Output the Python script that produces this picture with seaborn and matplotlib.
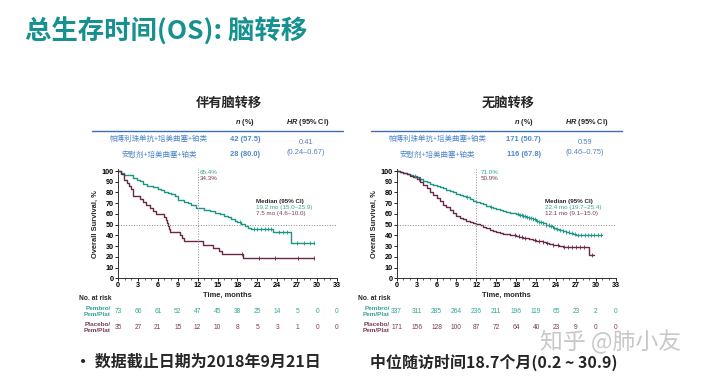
import numpy as np
import pandas as pd
import matplotlib
matplotlib.use("Agg")
import matplotlib.pyplot as plt
import matplotlib.transforms as mtransforms
from matplotlib.ticker import MultipleLocator
import seaborn as sns

# ---- data ----
months = [0, 3, 6, 9, 12, 15, 18, 21, 24, 27, 30, 33]

# with brain metastases
bm_pembro_t = [0, 0.4, 0.9, 2.3, 2.8, 3.3, 3.8, 4.4, 5.3, 6.0, 6.5, 7.0, 7.5, 8.0, 8.6, 9.0,
               10.0, 10.5, 11.0, 11.8, 13.0, 13.8, 14.6, 15.4, 16.0, 16.6, 17.1, 17.6, 18.0,
               18.5, 19.2, 19.6, 20.1, 23.4, 26.0, 29.6]
bm_pembro_s = [100, 98.6, 95.9, 93.2, 91.8, 90.4, 87.7, 86.3, 84.9, 83.6, 82.2, 80.8, 79.5, 78.1,
               76.7, 72.6, 71.2, 69.9, 68.5, 65.4, 64.0, 62.6, 61.2, 59.7, 58.2, 56.7, 55.2, 53.6,
               52.1, 50.5, 48.9, 47.2, 45.5, 43.0, 32.8, 32.8]
bm_pembro_cens = [18.4, 20.5, 21.0, 21.6, 22.1, 22.6, 23.0, 24.2, 24.8, 25.4, 27.0, 28.0, 29.0, 29.6]

bm_placebo_t = [0, 0.5, 0.9, 1.3, 1.6, 2.0, 2.3, 3.3, 3.8, 4.2, 4.8, 5.3, 5.8, 7.0, 7.2, 7.4, 7.5,
                7.7, 7.9, 9.3, 9.7, 10.0, 12.8, 14.3, 15.2, 15.6, 18.9, 29.6]
bm_placebo_s = [100, 97.1, 91.4, 88.6, 85.7, 82.9, 77.1, 74.3, 71.4, 68.6, 65.7, 62.9, 60.0, 57.1,
                54.3, 51.4, 48.6, 45.7, 42.9, 40.0, 37.1, 34.3, 31.4, 28.6, 25.7, 22.6, 19.3, 19.3]
bm_placebo_cens = [18.7, 21.3, 23.6, 27.1, 29.6]

bm_risk_pembro = [73, 66, 61, 52, 47, 45, 38, 25, 14, 5, 0, 0]
bm_risk_placebo = [35, 27, 21, 15, 12, 10, 8, 5, 3, 1, 0, 0]

# without brain metastases
nobm_pembro_t = [0, 0.5, 1, 1.5, 2, 2.5, 3, 3.5, 4, 4.5, 5, 5.5, 6, 6.5, 7, 7.5, 8, 8.5, 9, 9.5,
                 10, 10.5, 11, 11.5, 12, 12.5, 13, 13.5, 14, 14.5, 15, 15.5, 16, 16.5, 17, 17.5,
                 18, 18.5, 19, 19.5, 20, 20.5, 21, 21.5, 22, 22.5, 23, 23.5, 24, 24.5, 25, 25.5,
                 26, 26.5, 27, 31.0]
nobm_pembro_s = [100, 99.4, 98.5, 97.6, 96.6, 95.5, 94.5, 92.8, 91.0, 89.6, 88.3, 87.0, 85.8, 84.8,
                 83.8, 82.6, 81.4, 80.2, 79.0, 77.8, 76.6, 75.5, 74.0, 72.5, 71.0, 70.0, 68.9, 67.8,
                 66.8, 65.8, 64.9, 64.0, 63.1, 62.2, 61.3, 60.5, 59.7, 59.0, 58.2, 57.2, 56.2, 55.0,
                 53.8, 52.6, 51.2, 49.9, 48.6, 47.3, 46.2, 45.2, 44.2, 43.2, 42.4, 41.6, 40.4, 40.4]
nobm_pembro_cens = [2.8, 10.6, 14.2, 18.3, 18.6, 18.9, 19.1, 19.4, 19.7, 20.0, 20.3, 20.6, 20.9,
                    21.2, 21.5, 21.8, 22.1, 22.5, 22.9, 23.3, 23.7, 24.1, 24.6, 25.0, 25.5, 25.9,
                    26.4, 26.8, 27.3, 27.8, 28.3, 28.8, 29.3, 29.8, 30.3, 30.8]

nobm_placebo_t = [0, 0.5, 1, 1.5, 2, 2.5, 3, 3.5, 4, 4.5, 5, 5.5, 6, 6.5, 7, 7.5, 8, 8.5, 9, 9.5,
                  10, 10.5, 11, 11.5, 12, 12.5, 13, 13.5, 14, 14.5, 15, 15.5, 16, 16.5, 17, 17.5,
                  18, 18.5, 19, 19.5, 20, 20.5, 21, 21.5, 22, 22.5, 23, 23.5, 24, 24.5, 25, 26,
                  29.0, 29.8]
nobm_placebo_s = [100, 99.4, 98.3, 97.0, 95.8, 94.5, 92.8, 90.0, 87.2, 84.0, 80.5, 77.5, 75.0, 72.0,
                  68.5, 66.0, 63.5, 61.0, 58.5, 56.5, 54.8, 53.5, 52.6, 51.7, 50.9, 49.5, 48.0, 46.5,
                  45.0, 43.8, 43.0, 42.2, 41.5, 40.9, 40.6, 40.0, 39.2, 38.5, 37.8, 37.2, 36.6, 35.8,
                  35.2, 34.4, 33.6, 32.7, 32.0, 31.5, 31.0, 30.3, 29.6, 29.0, 21.7, 21.7]
nobm_placebo_cens = [3.4, 17.8, 18.4, 18.9, 19.3, 20.8, 21.4, 22.0, 22.6, 23.6, 24.3, 25.2, 25.8,
                     26.4, 27.0, 27.6, 28.2, 29.5]

nobm_risk_pembro = [337, 311, 285, 264, 236, 211, 196, 119, 65, 23, 2, 0]
nobm_risk_placebo = [171, 156, 128, 100, 87, 72, 64, 40, 23, 9, 0, 0]

TEAL = "#1a9687"
MAROON = "#6a2747"
TEAL_TXT = "#35a597"
MAROON_TXT = "#7b3a58"
BLUE = "#4f86c6"

sns.set_theme(style="ticks")
plt.rcParams["font.family"] = ["Liberation Sans", "Noto Sans CJK SC"]
plt.rcParams["mathtext.fontset"] = "custom"
plt.rcParams["mathtext.it"] = "Liberation Sans:italic:bold"
plt.rcParams["mathtext.rm"] = "Liberation Sans:bold"

W, H = 720, 376
fig = plt.figure(figsize=(W / 100, H / 100), dpi=100)
fig.patch.set_facecolor("white")
CJK = ["Noto Sans CJK SC", "DejaVu Sans"]


def P(x, y):
    return x / W, 1 - y / H


def step_at(t, s, x):
    idx = np.searchsorted(np.asarray(t), np.asarray(x), side="right") - 1
    return np.asarray(s)[idx]


def panel(dx, subtitle, n_txt, hr_txt, curves, risk, pct12, medians):
    # subtitle + summary table
    fig.text(*P(229 + dx, 103), subtitle, ha="center", va="center", fontsize=9.5,
             fontweight="bold", family=CJK)
    fig.text(*P(245 + dx, 123), r"$\mathit{n}$ (%)", ha="center", va="center", fontsize=5.3,
             fontweight="bold")
    fig.text(*P(308 + dx, 123), r"$\mathit{HR}$ (95% CI)", ha="center", va="center",
             fontsize=5.3, fontweight="bold")
    fig.add_artist(plt.Line2D([(92 + dx) / W, (343 + dx) / W], [1 - 131 / H] * 2,
                              color="#3f6fae", lw=1.0))
    for lab, nt, yy in zip(["帕博利珠单抗+培美曲塞+铂类", "安慰剂+培美曲塞+铂类"], n_txt, [139, 155]):
        fig.text(*P(159 + dx, yy), lab, ha="center", va="center", fontsize=5.4, color=BLUE,
                 family=CJK)
        fig.text(*P(245 + dx, yy), nt, ha="center", va="center", fontsize=5.4, color=BLUE,
                 fontweight="bold")
    fig.text(*P(306 + dx, 142), hr_txt[0], ha="center", va="center", fontsize=5.4, color="#5b80b8")
    fig.text(*P(306 + dx, 153), hr_txt[1], ha="center", va="center", fontsize=5.4, color="#5b80b8")

    # KM axes
    left, right = 118 + dx, 337 + dx
    bottom = 278.3
    top = bottom - 101.5 * 1.073
    ax = fig.add_axes([left / W, 1 - bottom / H, (right - left) / W, (bottom - top) / H])
    for (t, s, cens), col in zip(curves, [TEAL, MAROON]):
        df = pd.DataFrame({"t": t, "s": s})
        sns.lineplot(data=df, x="t", y="s", ax=ax, color=col, lw=1.0, drawstyle="steps-post",
                     estimator=None, sort=False)
        sns.scatterplot(x=cens, y=step_at(t, s, cens), ax=ax, marker="|", s=9, color=col,
                        linewidth=0.6, zorder=3)
    ax.axvline(12, color="#8a8a8a", ls=":", lw=0.7)
    ax.axhline(50, color="#8a8a8a", ls=":", lw=0.7)
    ax.set_xlim(0, 33)
    ax.set_ylim(0, 101.5)
    ax.set_xticks(months)
    ax.set_yticks(range(0, 101, 10))
    ax.xaxis.set_minor_locator(MultipleLocator(1))
    ax.tick_params(axis="both", which="major", labelsize=5.2, length=2, width=0.6, pad=1,
                   colors="black")
    ax.tick_params(axis="x", which="minor", length=1.2, width=0.5)
    for lb in ax.get_xticklabels() + ax.get_yticklabels():
        lb.set_fontweight("bold")
    ax.set_xlabel("Time, months", fontsize=5.4, fontweight="bold", labelpad=1.5)
    ax.set_ylabel("Overall Survival, %", fontsize=5.4, fontweight="bold", labelpad=2)
    sns.despine(ax=ax)
    for sp in ["left", "bottom"]:
        ax.spines[sp].set_linewidth(0.7)
        ax.spines[sp].set_color("#333333")
    ax.set_facecolor("white")

    # annotations
    x12 = pct12[2]
    ax.text(x12, 98.8, pct12[0], color=TEAL_TXT, fontsize=4.5, va="center")
    ax.text(x12, 92.6, pct12[1], color=MAROON_TXT, fontsize=4.5, va="center")
    mx = medians[2]
    box = dict(facecolor="white", edgecolor="none", pad=0.3)
    ax.text(mx, 71.2, "Median (95% CI)", fontsize=4.5, fontweight="bold", va="center",
            bbox=box, zorder=4)
    ax.text(mx, 65.6, medians[0], color=TEAL_TXT, fontsize=4.5, va="center", bbox=box, zorder=4)
    ax.text(mx, 60.0, medians[1], color=MAROON_TXT, fontsize=4.5, va="center", bbox=box,
            zorder=4)

    # number at risk
    tr = mtransforms.blended_transform_factory(ax.transData, fig.transFigure)
    fig.text(*P(left - 39, 298), "No. at risk", fontsize=4.8, fontweight="bold", va="center")
    fig.text(*P(left - 7, 311.5), "Pembro/\nPem/Plat", fontsize=4.6, fontweight="bold",
             color=TEAL_TXT, ha="right", va="center", linespacing=1.1)
    fig.text(*P(left - 7, 327.5), "Placebo/\nPem/Plat", fontsize=4.6, fontweight="bold",
             color=MAROON_TXT, ha="right", va="center", linespacing=1.1)
    for m, a, b in zip(months, risk[0], risk[1]):
        ax.text(m, 1 - 311.5 / H, str(a), transform=tr, ha="center", va="center", fontsize=4.8,
                color=TEAL_TXT, clip_on=False)
        ax.text(m, 1 - 327.5 / H, str(b), transform=tr, ha="center", va="center", fontsize=4.8,
                color=MAROON_TXT, clip_on=False)
    return ax


panel(0, "伴有脑转移", ["42 (57.5)", "28 (80.0)"], ["0.41", "(0.24–0.67)"],
      [(bm_pembro_t, bm_pembro_s, bm_pembro_cens), (bm_placebo_t, bm_placebo_s, bm_placebo_cens)],
      [bm_risk_pembro, bm_risk_placebo], ["65.4%", "34.3%", 12.3],
      ["19.2 mo (15.0–25.9)", "7.5 mo (4.6–10.0)", 20.8])
panel(278.7, "无脑转移", ["171 (50.7)", "116 (67.8)"], ["0.59", "(0.46–0.75)"],
      [(nobm_pembro_t, nobm_pembro_s, nobm_pembro_cens),
       (nobm_placebo_t, nobm_placebo_s, nobm_placebo_cens)],
      [nobm_risk_pembro, nobm_risk_placebo], ["71.0%", "50.9%", 12.6],
      ["22.4 mo (19.7–25.4)", "12.1 mo (9.1–15.0)", 22.4])

fig.text(*P(25, 32), "总生存时间(OS): 脑转移", fontsize=19, fontweight="bold", color="#17918f",
         family=CJK, va="center")
fig.text(*P(540, 342), "知乎 @肺小友", fontsize=16.5, color="#c8c8c8", family=CJK, va="center")
fig.text(*P(75, 362), "• 数据截止日期为2018年9月21日", fontsize=11.5, fontweight="bold",
         family=CJK, va="center")
fig.text(*P(370, 362), "中位随访时间18.7个月(0.2 ~ 30.9)", fontsize=11.5, fontweight="bold",
         family=CJK, va="center")

fig.savefig("out.png", dpi=100, facecolor="white")
